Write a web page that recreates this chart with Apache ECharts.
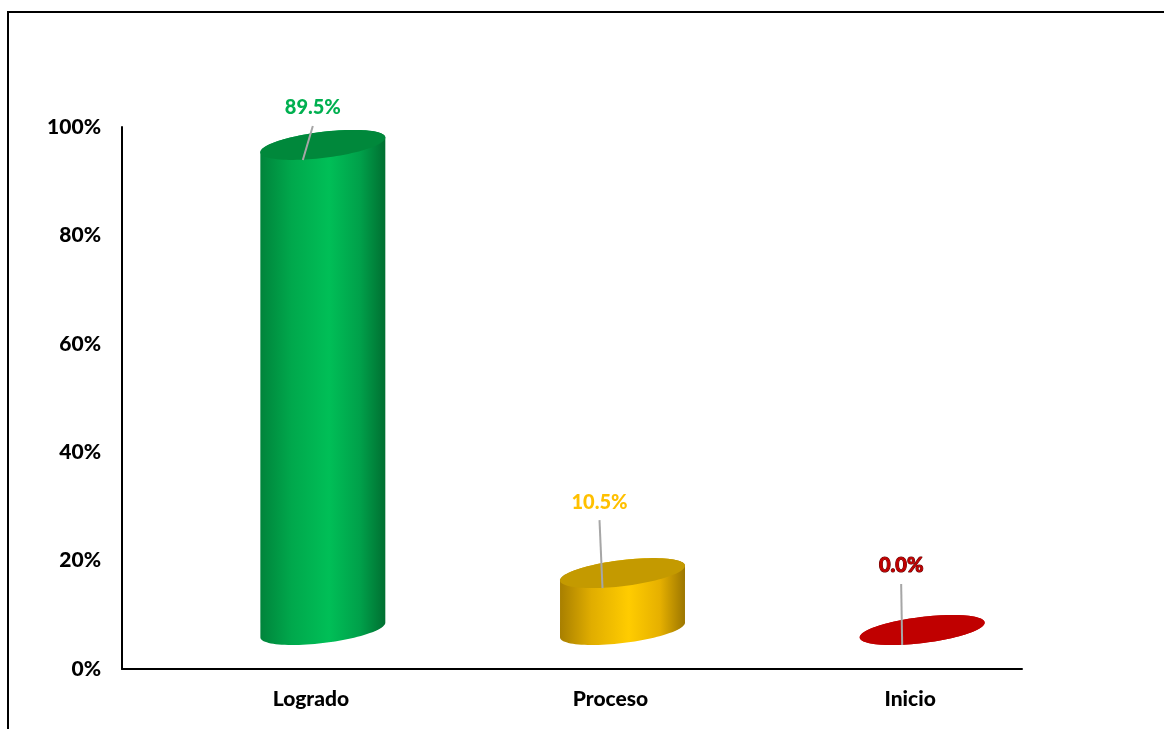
<!DOCTYPE html>
<html>
<head>
<meta charset="utf-8">
<script src="https://cdn.jsdelivr.net/npm/echarts@6/dist/echarts.min.js"></script>
<style>
  html, body { margin: 0; padding: 0; background: #fff; }
  #chart { width: 1164px; height: 729px; }
</style>
</head>
<body>
<div id="chart"></div>
<script>
// datos del gráfico
const categories = ['Logrado', 'Proceso', 'Inicio'];
const values = [89.5, 10.5, 0.0];
const yTicks = [0, 20, 40, 60, 80, 100];

// estilos por cilindro
const bodyColors = [
  ['#00843b', '#00a84c', '#00bf57', '#00a04a', '#006f31'],
  ['#a87f00', '#e0ad00', '#ffcc00', '#e6b000', '#9c7600'],
  ['#c00000', '#c00000', '#c00000', '#c00000', '#c00000']
];
const topColors = ['#00883b', '#c49a00', '#c00000'];
const labelColors = ['#00b050', '#ffc000', '#c00000'];
// desplazamiento de la etiqueta respecto al centro de la tapa
const labelShift = [[-10, -37], [-23, -71], [-21, -64]];

const chart = echarts.init(document.getElementById('chart'));

function ellipsePts(cx, cy, a, b, th, t0, t1, n) {
  const pts = [];
  for (let k = 0; k <= n; k++) {
    const t = t0 + (t1 - t0) * k / n;
    pts.push([
      cx + a * Math.cos(t) * Math.cos(th) - b * Math.sin(t) * Math.sin(th),
      cy + a * Math.cos(t) * Math.sin(th) + b * Math.sin(t) * Math.cos(th)
    ]);
  }
  return pts;
}

function renderCylinder(params, api) {
  const i = api.value(0);
  const v = api.value(1);
  const top = api.coord([i, v]);
  const base = api.coord([i, 0]);
  const a = api.size([1, 0])[0] * 0.21;
  const b = 13;
  const th = -7 * Math.PI / 180;
  const tR = Math.atan2(-b * Math.sin(th), a * Math.cos(th));
  const front = ellipsePts(base[0], base[1], a, b, th, tR, tR + Math.PI, 48);
  const back = ellipsePts(top[0], top[1], a, b, th, tR + Math.PI, tR + 2 * Math.PI, 48);
  const cap = ellipsePts(top[0], top[1], a, b, th, 0, 2 * Math.PI, 96);
  const stops = bodyColors[i];
  const sh = labelShift[i];
  const lx = top[0] + sh[0];
  const ly = top[1] + sh[1];
  return {
    type: 'group',
    children: [
      {
        type: 'polygon',
        shape: { points: front.concat(back) },
        style: {
          fill: {
            type: 'linear', x: 0, y: 0, x2: 1, y2: 0,
            colorStops: [
              { offset: 0, color: stops[0] },
              { offset: 0.25, color: stops[1] },
              { offset: 0.55, color: stops[2] },
              { offset: 0.8, color: stops[3] },
              { offset: 1, color: stops[4] }
            ]
          }
        }
      },
      {
        type: 'polygon',
        shape: { points: cap },
        style: { fill: topColors[i] }
      },
      {
        type: 'line',
        shape: { x1: lx, y1: ly + 18, x2: top[0] - 20, y2: top[1] + 15 },
        style: { stroke: '#a6a6a6', lineWidth: 2 }
      },
      {
        type: 'text',
        style: {
          text: v.toFixed(1) + '%',
          x: lx, y: ly,
          align: 'center', verticalAlign: 'middle',
          fill: labelColors[i],
          font: '900 20px Lato, "Open Sans", sans-serif',
          stroke: i === 2 ? '#5a0000' : null,
          lineWidth: i === 2 ? 1 : 0
        }
      }
    ]
  };
}

const option = {
  backgroundColor: '#fff',
  animation: false,
  graphic: [{
    type: 'rect',
    shape: { x: 8, y: 12, width: 1200, height: 760 },
    style: { fill: null, stroke: '#000', lineWidth: 2 },
    silent: true
  }],
  grid: [
    { left: 122, right: 142, top: 127, bottom: 60 },   // ejes visibles
    { left: 173, right: 92, top: 88, bottom: 99 }      // espacio 3D de los cilindros
  ],
  xAxis: [
    {
      gridIndex: 0, type: 'category', data: categories,
      axisLine: { lineStyle: { color: '#000', width: 2 } },
      axisTick: { show: false }, axisLabel: { show: false }
    },
    {
      gridIndex: 1, type: 'category', data: categories,
      axisLine: { show: false }, axisTick: { show: false },
      axisLabel: {
        margin: 59, padding: [0, 24, 0, 0],
        color: '#000', fontSize: 21, fontWeight: 900,
        fontFamily: 'Lato, "Open Sans", sans-serif'
      }
    }
  ],
  yAxis: [
    {
      gridIndex: 0, type: 'value', min: yTicks[0], max: yTicks[yTicks.length - 1],
      interval: yTicks[1] - yTicks[0],
      axisLine: { show: true, lineStyle: { color: '#000', width: 2 } },
      axisTick: { show: false }, splitLine: { show: false },
      axisLabel: {
        margin: 21, formatter: '{value}%',
        color: '#000', fontSize: 21, fontWeight: 900,
        fontFamily: 'Lato, "Open Sans", sans-serif'
      }
    },
    {
      gridIndex: 1, type: 'value', min: yTicks[0], max: yTicks[yTicks.length - 1],
      show: false
    }
  ],
  series: [{
    type: 'custom',
    xAxisIndex: 1, yAxisIndex: 1,
    renderItem: renderCylinder,
    data: values.map((v, i) => [i, v])
  }]
};

chart.setOption(option);
</script>
</body>
</html>
